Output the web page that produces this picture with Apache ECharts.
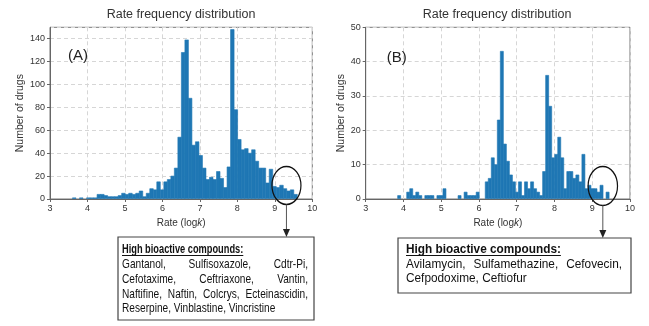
<!DOCTYPE html>
<html>
<head>
<meta charset="utf-8">
<script src="https://cdn.jsdelivr.net/npm/echarts@6/dist/echarts.min.js"></script>
<style>
  html, body { margin: 0; padding: 0; background: #fff; }
  #chart { width: 649px; height: 326px; }
</style>
</head>
<body>
<div id="chart"></div>
<script>
const FONT = '"Liberation Sans", Arial, sans-serif'

// panel (A): 64 bins from 3.6 to 9.6
const binStartA = 3.6
const binWidthA = 0.09375
const countsA = [
  1, 0, 1, 0, 1, 1, 1, 4, 4, 3, 2, 2, 2, 3, 5, 4,
  5, 4, 5, 7, 2, 5, 9, 8, 15, 8, 15, 17, 20, 27, 54, 128,
  139, 88, 47, 50, 38, 27, 17, 19, 17, 24, 18, 10, 28, 148, 78, 52,
  43, 44, 40, 43, 33, 27, 27, 14, 26, 11, 10, 12, 9, 7, 8, 4
]

// panel (B): 70 bins from 3.846
const binStartB = 3.846
const binWidthB = 0.08
const countsB = [
  1, 0, 0, 2, 3, 1, 2, 1, 0, 1, 1, 1, 0, 1, 1, 3,
  0, 0, 0, 0, 1, 0, 2, 1, 1, 1, 2, 0, 0, 5, 6, 12,
  10, 23, 43, 16, 11, 7, 5, 2, 5, 1, 5, 3, 5, 3, 2, 1,
  8, 36, 27, 12, 13, 18, 12, 3, 8, 8, 6, 7, 5, 13, 3, 4,
  3, 3, 2, 4, 0, 2
]

const xMin = 3, xMax = 10, xStep = 1
const yMaxA = 150, yStepA = 20
const yMaxB = 50, yStepB = 10

const titleText = 'Rate frequency distribution'
const xName = 'Rate (log{i|k})'
const yName = 'Number of drugs'
const panelLabels = ['(A)', '(B)']

const boxHeading = 'High bioactive compounds:'
// each line: words + whether the line is justified
const compoundsA = [
  { words: ['Gantanol,', 'Sulfisoxazole,', 'Cdtr-Pi,'], justify: true },
  { words: ['Cefotaxime,', 'Ceftriaxone,', 'Vantin,'], justify: true },
  { words: ['Naftifine,', 'Naftin,', 'Colcrys,', 'Ecteinascidin,'], justify: true },
  { words: ['Reserpine,', 'Vinblastine,', 'Vincristine'], justify: false },
]
const compoundsB = [
  { words: ['Avilamycin,', 'Sulfamethazine,', 'Cefovecin,'], justify: true },
  { words: ['Cefpodoxime,', 'Ceftiofur'], justify: false },
]

function toBins(start, width, counts) {
  return counts.map((c, i) => [start + i * width, start + (i + 1) * width, c])
}

function histSeries(idx, data) {
  return {
    type: 'custom',
    xAxisIndex: idx,
    yAxisIndex: idx,
    z: 5,
    encode: { x: [0, 1], y: 2 },
    data,
    renderItem(params, api) {
      if (!api.value(2)) return null
      const p0 = api.coord([api.value(0), api.value(2)])
      const p1 = api.coord([api.value(1), 0])
      return {
        type: 'rect',
        shape: { x: p0[0], y: p0[1], width: p1[0] - p0[0], height: p1[1] - p0[1] - 0.5 },
        style: { fill: '#1f77b4', stroke: '#1f77b4', lineWidth: 0.6 },
      }
    },
  }
}

function xAxis(gridIndex) {
  return {
    type: 'value', gridIndex, min: xMin, max: xMax, interval: xStep,
    name: xName, nameLocation: 'middle', nameGap: 18,
    nameTextStyle: { color: '#333', fontSize: 10, fontFamily: FONT, rich: { i: { fontStyle: 'italic', fontSize: 10, fontFamily: FONT, color: '#333' } } },
    axisLine: { show: true, lineStyle: { color: '#666' } },
    axisTick: { show: true, length: 3, lineStyle: { color: '#666' } },
    axisLabel: { color: '#333', fontSize: 9, fontFamily: FONT, margin: 5 },
    splitLine: { show: true, lineStyle: { color: '#d6d6d6', type: [4, 3] } },
    z: 3,
  }
}

function yAxis(gridIndex, max, step, gap) {
  return {
    type: 'value', gridIndex, min: 0, max, interval: step,
    name: yName, nameLocation: 'middle', nameGap: gap,
    nameTextStyle: { color: '#333', fontSize: 10.5, fontFamily: FONT },
    axisLine: { show: true, lineStyle: { color: '#666' } },
    axisTick: { show: true, length: 3, lineStyle: { color: '#666' } },
    axisLabel: { color: '#333', fontSize: 9, fontFamily: FONT, margin: 5, showMaxLabel: max % step === 0 },
    splitLine: { show: true, lineStyle: { color: '#d6d6d6', type: [4, 3] } },
    z: 3,
  }
}

const chart = echarts.init(document.getElementById('chart'), null, { renderer: 'canvas' })

chart.setOption({
  animation: false,
  backgroundColor: '#fff',
  title: [
    { text: titleText, left: 181, top: 8, textAlign: 'center', padding: 0, textStyle: { color: '#333', fontSize: 12.5, fontWeight: 'normal', fontFamily: FONT } },
    { text: titleText, left: 497, top: 8, textAlign: 'center', padding: 0, textStyle: { color: '#333', fontSize: 12.5, fontWeight: 'normal', fontFamily: FONT } },
  ],
  grid: [
    { left: 50, top: 27.3, width: 262.3, height: 171.7, show: true, borderColor: '#777', borderWidth: 1, backgroundColor: 'transparent' },
    { left: 365.7, top: 27.3, width: 264.3, height: 171.7, show: true, borderColor: '#777', borderWidth: 1, backgroundColor: 'transparent' },
  ],
  xAxis: [xAxis(0), xAxis(1)],
  yAxis: [yAxis(0, yMaxA, yStepA, 21), yAxis(1, yMaxB, yStepB, 19)],
  series: [
    histSeries(0, toBins(binStartA, binWidthA, countsA)),
    histSeries(1, toBins(binStartB, binWidthB, countsB)),
  ],
})

// ---- annotations ----
const ctx = document.createElement('canvas').getContext('2d')
function measure(text, size, bold) {
  ctx.font = (bold ? 'bold ' : '') + size + 'px ' + FONT
  return ctx.measureText(text).width
}

function textLine(words, x0, x1, y, size, scaleX, justify) {
  const widths = words.map(w => measure(w, size) * scaleX)
  const total = widths.reduce((a, b) => a + b, 0)
  const gap = justify && words.length > 1
    ? (x1 - x0 - total) / (words.length - 1)
    : measure(' ', size) * scaleX
  const out = []
  let x = x0
  words.forEach((w, i) => {
    out.push({
      type: 'text', x, y, scaleX, z: 20,
      style: { text: w, fontSize: size, fontFamily: FONT, fill: '#111', align: 'left', verticalAlign: 'middle' },
    })
    x += widths[i] + gap
  })
  return out
}

function box(b, lines, t) {
  const els = [{
    type: 'rect', z: 15,
    shape: { x: b.x, y: b.y, width: b.w, height: b.h },
    style: { fill: '#fff', stroke: '#444', lineWidth: 1.2 },
  }]
  const hw = measure(boxHeading, t.headSize, true) * t.headScale
  els.push({
    type: 'text', x: t.x0, y: t.y0, scaleX: t.headScale, z: 20,
    style: { text: boxHeading, fontSize: t.headSize, fontWeight: 'bold', fontFamily: FONT, fill: '#111', align: 'left', verticalAlign: 'middle' },
  })
  els.push({ type: 'line', z: 20, shape: { x1: t.x0, y1: t.y0 + 5.5, x2: t.x0 + hw, y2: t.y0 + 5.5 }, style: { stroke: '#111', lineWidth: 1 } })
  lines.forEach((ln, i) => {
    els.push(...textLine(ln.words, t.x0, t.x1, t.y0 + t.dy[i], t.size, t.scale, ln.justify))
  })
  return els
}

function ellipseArrow(gridIndex, center, rx, ry, boxTop) {
  const c = chart.convertToPixel({ gridIndex }, center)
  const bottom = c[1] + ry
  return [
    { type: 'circle', x: c[0], y: c[1], scaleY: ry / rx, z: 20, shape: { cx: 0, cy: 0, r: rx },
      style: { fill: 'none', stroke: '#111', lineWidth: 1.2, strokeNoScale: true } },
    { type: 'line', z: 20, shape: { x1: c[0], y1: bottom, x2: c[0], y2: boxTop - 7 }, style: { stroke: '#555', lineWidth: 1 } },
    { type: 'polygon', z: 20, shape: { points: [[c[0] - 3.5, boxTop - 8], [c[0] + 3.5, boxTop - 8], [c[0], boxTop]] }, style: { fill: '#222' } },
  ]
}

function panelLabel(gridIndex, pos, text) {
  const p = chart.convertToPixel({ gridIndex }, pos)
  return { type: 'text', x: p[0], y: p[1], z: 20,
    style: { text, fontSize: 15, fontFamily: FONT, fill: '#222', align: 'left', verticalAlign: 'middle' } }
}

const boxA = { x: 118, y: 237, w: 196, h: 83 }
const boxB = { x: 398, y: 238, w: 233, h: 55 }

chart.setOption({
  graphic: [
    panelLabel(0, [3.48, 125], panelLabels[0]),
    panelLabel(1, [3.56, 41], panelLabels[1]),
    ...ellipseArrow(0, [9.31, 11.8], 14.5, 19, boxA.y),
    ...ellipseArrow(1, [9.28, 3.8], 14.7, 19.5, boxB.y),
    ...box(boxA, compoundsA, { size: 13.5, scale: 0.75, headSize: 12.5, headScale: 0.74, x0: 122, x1: 308, y0: 250, dy: [14, 29, 44, 58] }),
    ...box(boxB, compoundsB, { size: 12.5, scale: 0.945, headSize: 12.5, headScale: 0.945, x0: 406, x1: 622, y0: 250, dy: [14.5, 29] }),
  ],
})
</script>
</body>
</html>
